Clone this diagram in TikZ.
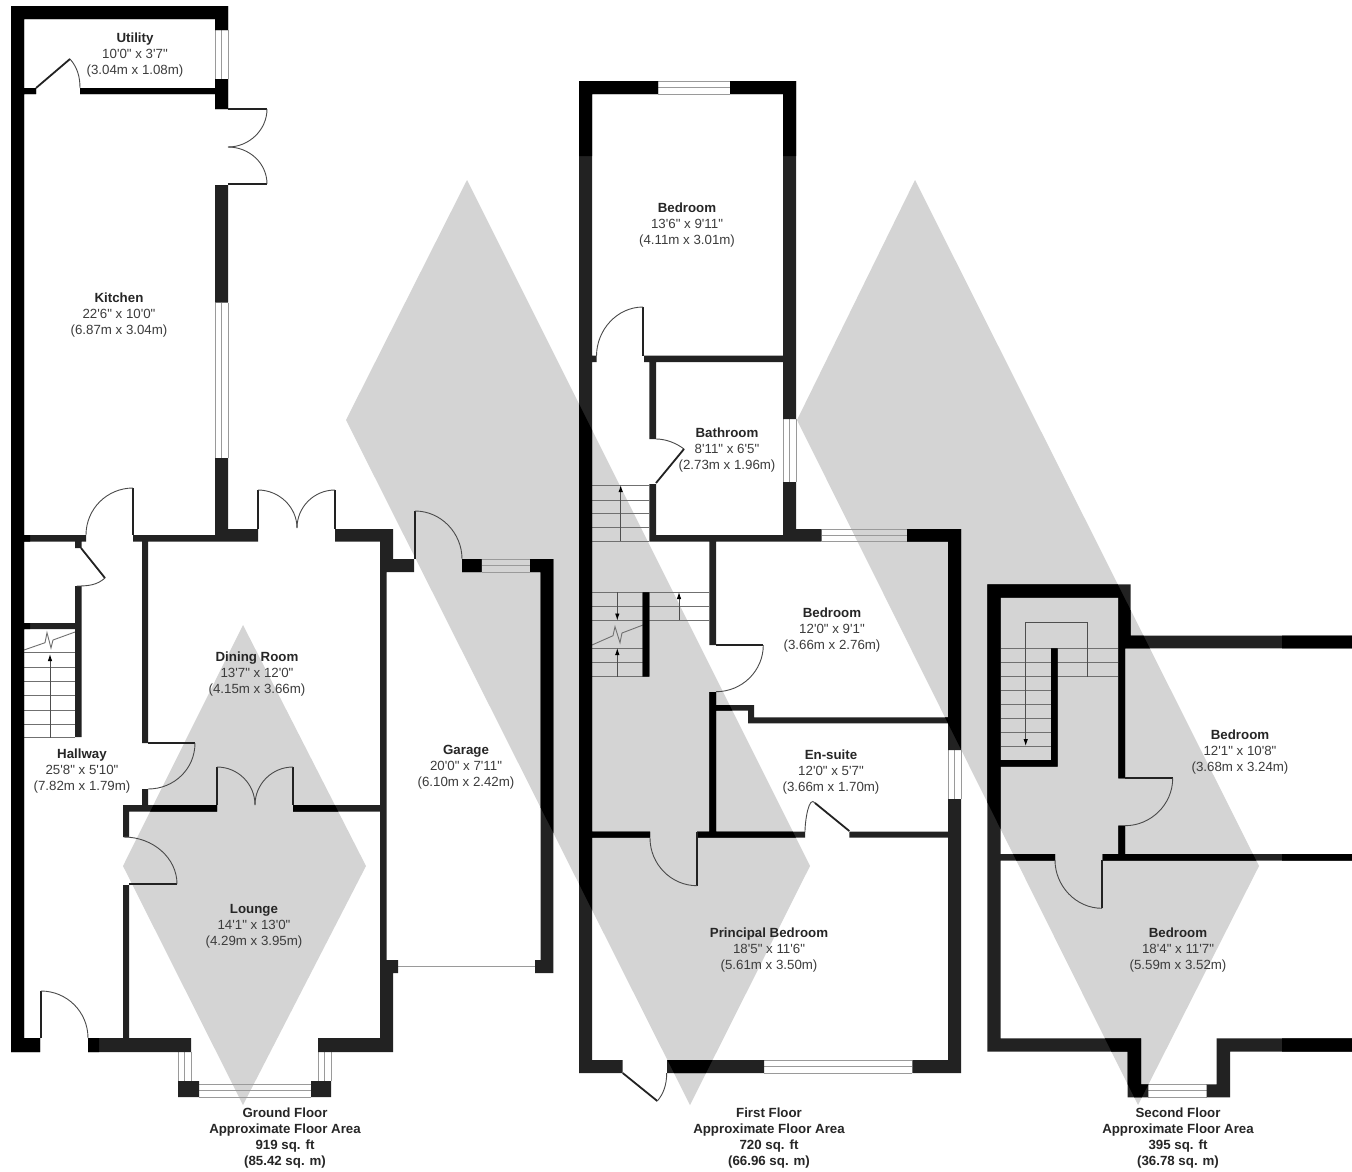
\documentclass[tikz,border=0pt]{standalone}
\usepackage{fontspec}
\usetikzlibrary{arrows.meta}
\newfontfamily\planfont{Liberation Sans}
\definecolor{wallc}{HTML}{222222}
\definecolor{walldark}{HTML}{000000}
\definecolor{markc}{HTML}{D4D4D4}
\definecolor{titlec}{HTML}{262626}
\definecolor{dimc}{HTML}{3C3C3C}
\definecolor{winc}{HTML}{9A9A9A}
\definecolor{treadc}{HTML}{707070}
\definecolor{swingc}{HTML}{4A4A4A}
\tikzset{
  watermark/.style={fill=markc},
  roomlabel/.style={font=\planfont\fontsize{13.3}{16}\selectfont, align=center, text=dimc, inner sep=0pt},
  floorlabel/.style={font=\planfont\bfseries\fontsize{13.3}{16}\selectfont, align=center, text=titlec, inner sep=0pt},
  jamb/.style={draw=wallc, line width=1.8pt},
  leaf/.style={draw=wallc, line width=1.8pt},
  swing/.style={draw=swingc, line width=0.9pt},
  winline/.style={draw=winc, line width=1pt},
  tread/.style={draw=treadc, line width=0.8pt},
  stairarrow/.style={draw=treadc!70!black, line width=0.9pt, -{Latex[length=7pt,width=4.5pt,color=black]}},
  breakline/.style={draw=treadc, line width=0.9pt, line join=miter}
}
\newcommand{\hwin}[4]{\draw[winline] (#1,#3) -- (#2,#3) (#1,{(#3+#4)/2}) -- (#2,{(#3+#4)/2}) (#1,#4) -- (#2,#4);}
\newcommand{\vwin}[4]{\draw[winline] (#1,#3) -- (#1,#4) ({(#1+#2)/2},#3) -- ({(#1+#2)/2},#4) (#2,#3) -- (#2,#4);}
\newcommand{\ttl}[1]{\textcolor{titlec}{\bfseries #1}}
\newcommand{\planwalls}[1]{\fill[fill=#1]
  (11,6) rectangle (24,1052)
  (11,1038) rectangle (40,1052)
  (11,6) rectangle (228,19)
  (215,6) rectangle (228,30)
  (215,79) rectangle (228,109)
  (80,88) rectangle (215,94)
  (24,88) rectangle (36,94)
  (215,185) rectangle (228,302.7)
  (215,458) rectangle (228,541.7)
  (24,535) rectangle (86,541.7)
  (133,535) rectangle (215,541.7)
  (215,529) rectangle (258,541.7)
  (335,529) rectangle (393,541.7)
  (380,529) rectangle (393,572)
  (386,559) rectangle (414,572)
  (380,559) rectangle (386.7,960)
  (380,960) rectangle (398,973)
  (380,960) rectangle (393,1052)
  (75,541) rectangle (81.5,548)
  (75,586) rectangle (81.5,737)
  (24,623) rectangle (75,629)
  (142,541) rectangle (148,743)
  (142,789) rectangle (148,807)
  (123,805) rectangle (217,811.7)
  (293,805) rectangle (380,811.7)
  (123,805) rectangle (129,837)
  (123,885) rectangle (129,1040)
  (88,1038) rectangle (191,1052)
  (178,1038) rectangle (191,1052)
  (178,1081) rectangle (199,1097)
  (311,1081) rectangle (331,1097)
  (318,1038) rectangle (393,1052)
  (462,559) rectangle (481.7,572)
  (530,559) rectangle (553.3,572)
  (540.5,559) rectangle (553.3,973)
  (535,960) rectangle (553.3,973)
  (579,81) rectangle (592,1073)
  (579,81) rectangle (658,94)
  (730,81) rectangle (796,94)
  (783,81) rectangle (796,419)
  (783,482) rectangle (796,541.7)
  (644,355.7) rectangle (783,362)
  (592,355.7) rectangle (596.5,362)
  (649.3,362) rectangle (656,439)
  (649.3,484) rectangle (656,541.7)
  (649.3,535) rectangle (783,541.7)
  (796,529) rectangle (821.7,541.7)
  (907,529) rectangle (961,541.7)
  (948,529) rectangle (961,750)
  (948,799) rectangle (961,1073)
  (709.3,541) rectangle (716,645)
  (709.3,692) rectangle (716,832)
  (716,705) rectangle (754,710.7)
  (748,705) rectangle (754,723.3)
  (748,717.3) rectangle (948,723.3)
  (642.7,592.3) rectangle (649.3,676.7)
  (592,831.7) rectangle (650,837.7)
  (697,831.7) rectangle (805,837.7)
  (849.3,831.7) rectangle (948,837.7)
  (579,1060) rectangle (622.7,1073)
  (667,1060) rectangle (764,1073)
  (912.3,1060) rectangle (961,1073)
  (987.3,584.3) rectangle (1000.7,1051.7)
  (987.3,584.3) rectangle (1130.7,597.7)
  (1118.3,584.3) rectangle (1130.7,648.3)
  (1118.3,648) rectangle (1125,778.3)
  (1118.3,825.7) rectangle (1125,855)
  (1118.3,635.7) rectangle (1352,648.3)
  (1000.7,854) rectangle (1055,860.7)
  (1102.7,854) rectangle (1352,860.7)
  (1051,648.3) rectangle (1057.7,766.7)
  (1000.7,760) rectangle (1057.7,766.7)
  (987.3,1038.3) rectangle (1141,1051.7)
  (1216.7,1038.3) rectangle (1352,1051.7)
  (1127.7,1038.3) rectangle (1141,1097.3)
  (1127.7,1084.3) rectangle (1148.3,1097.3)
  (1206.7,1084.3) rectangle (1230,1097.3)
  (1216.7,1038.3) rectangle (1230,1097.3);}
\begin{document}
\begin{tikzpicture}[x=1pt,y=-1pt]
\useasboundingbox (0,0) rectangle (1352,1171);
\fill[white] (0,0) rectangle (1352,1171);

% watermark
\fill[watermark] (467,180) -- (810,866) -- (690,1105) -- (346,420) -- cycle;
\fill[watermark] (915,180) -- (1259,866) -- (1138,1105) -- (797,420) -- cycle;
\fill[watermark] (243,625) -- (366,866) -- (243,1105) -- (123,866) -- cycle;

% stairs, ground floor
\draw[tread] (24,652.7) -- (75,652.7) (24,667) -- (75,667) (24,681.7) -- (75,681.7) (24,695.7) -- (75,695.7) (24,710) -- (75,710) (24,724) -- (75,724) (24,737.7) -- (75,737.7);
\draw[stairarrow] (50,737.7) -- (50,654);
\draw[breakline] (24,650) -- (45,642.7) -- (47,632.7) -- (51,648) -- (53,640) -- (75,632);

% stairs, first floor
\draw[tread] (592,485.7) -- (649,485.7) (592,500) -- (649,500) (592,513.3) -- (649,513.3) (592,527.7) -- (649,527.7) (592,541.7) -- (649,541.7);
\draw[stairarrow] (620.7,541) -- (620.7,485);
\draw[tread] (592,592.3) -- (709,592.3) (592,606) -- (709,606) (592,620) -- (709,620);
\draw[tread] (592,648.3) -- (643,648.3) (592,662.3) -- (643,662.3) (592,676.7) -- (643,676.7);
\draw[stairarrow] (617.3,592.3) -- (617.3,620.5);
\draw[stairarrow] (617.3,676.7) -- (617.3,648);
\draw[stairarrow] (679,620) -- (679,592);
\draw[breakline] (592,645) -- (613,635.7) -- (615,626.7) -- (620,642.7) -- (622,633) -- (643,625);

% stairs, second floor
\draw[tread] (1001,648.3) -- (1118,648.3) (1001,662.3) -- (1118,662.3) (1001,676.7) -- (1118,676.7);
\draw[tread] (1001,690.7) -- (1051,690.7) (1001,704.3) -- (1051,704.3) (1001,718.3) -- (1051,718.3) (1001,732.3) -- (1051,732.3) (1001,746) -- (1051,746);
\draw[stairarrow] (1087.7,676.7) -- (1087.7,622.3) -- (1025.7,622.3) -- (1025.7,746);

% windows
\vwin{215}{228}{30}{79}
\vwin{215}{228}{303}{458}
\vwin{178}{191}{1052}{1081}
\vwin{318}{331}{1052}{1081}
\hwin{199}{311}{1084}{1097}
\hwin{481.7}{530}{559}{572}
\hwin{658}{730}{81}{94}
\vwin{783}{796}{419}{482}
\hwin{821.7}{907}{529}{541.7}
\vwin{948}{961}{750}{799}
\hwin{764}{912}{1060}{1073}
\hwin{1148}{1207}{1084}{1097}
\draw[winline] (398,966) -- (535,966);

% walls
\planwalls{wallc}
\begin{scope}
\clip (467,180) -- (810,866) -- (690,1105) -- (346,420) -- cycle
      (915,180) -- (1259,866) -- (1138,1105) -- (797,420) -- cycle
      (243,625) -- (366,866) -- (243,1105) -- (123,866) -- cycle
      (0,0) -- (30,0) -- (30,1060) -- (0,1060) -- cycle
      (30,0) -- (230,0) -- (230,185) -- (30,185) -- cycle
      (30,1030) -- (40,1030) -- (40,1060) -- (30,1060) -- cycle
      (88,1030) -- (99,1030) -- (99,1060) -- (88,1060) -- cycle
      (570,70) -- (800,70) -- (800,156) -- (570,156) -- cycle
      (1282,620) -- (1352,620) -- (1352,1060) -- (1282,1060) -- cycle;
\planwalls{walldark}
\end{scope}

% doors, ground floor
\draw[leaf] (36,88) -- (70,59);
\draw[swing] (70,59) .. controls +(7,8) and +(0,-12) .. (80,88);
\draw[jamb] (228,109) -- (267,109) (228,184) -- (267,184);
\draw[swing] (267,109) .. controls +(0,21) and +(21,0) .. (228,147);
\draw[swing] (267,184) .. controls +(0,-21) and +(21,0) .. (228,147);
\draw[jamb] (133,488) -- (133,535);
\draw[swing] (133,488) .. controls +(-26,0) and +(0,-26) .. (86,535);
\draw[jamb] (258,490) -- (258,529) (335,490) -- (335,529);
\draw[swing] (258,490) .. controls +(21,0) and +(0,-21) .. (297,528);
\draw[swing] (335,490) .. controls +(-21,0) and +(0,-21) .. (297,528);
\draw[leaf] (81,548) -- (105,578);
\draw[swing] (105,578) .. controls +(-8,7) and +(12,0) .. (77,586);
\draw[jamb] (148,743) -- (195,743);
\draw[swing] (195,743) .. controls +(0,26) and +(26,0) .. (148,789);
\draw[jamb] (217,767) -- (217,805) (293,767) -- (293,805);
\draw[swing] (217,767) .. controls +(21,0) and +(0,-21) .. (255,805);
\draw[swing] (293,767) .. controls +(-21,0) and +(0,-21) .. (255,805);
\draw[jamb] (129,884) -- (177,884);
\draw[swing] (124,837) .. controls +(29,0) and +(0,-26) .. (177,884);
\draw[jamb] (41,991) -- (41,1038);
\draw[swing] (41,991) .. controls +(26,0) and +(0,-26) .. (88,1038);
\draw[jamb] (415,511) -- (415,559);
\draw[swing] (415,511) .. controls +(26,0) and +(0,-26) .. (462,559);

% doors, first floor
\draw[jamb] (643,307) -- (643,356);
\draw[swing] (643,307) .. controls +(-26,0) and +(0,-26) .. (596.5,356);
\draw[swing] (656,439) .. controls +(10,0) and +(-8,-6) .. (684,449);
\draw[leaf] (684,449) -- (656,483);
\draw[jamb] (716,645) -- (763.3,645);
\draw[swing] (763.3,645) .. controls +(0,26) and +(26,0) .. (716,691.7);
\draw[swing] (805,832) .. controls +(0,-12) and +(-6,-8) .. (815,803);
\draw[leaf] (815,803) -- (849.3,831);
\draw[jamb] (697,832) -- (697,885.7);
\draw[swing] (650,838) .. controls +(0,26) and +(-26,0) .. (697,885.7);
\draw[leaf] (622.7,1073) -- (657.3,1101);
\draw[swing] (657.3,1101) .. controls +(6,-7) and +(0,12) .. (666.7,1073);

% doors, second floor
\draw[jamb] (1125,778.3) -- (1172.7,778.3);
\draw[swing] (1172.7,778.3) .. controls +(0,26) and +(26,0) .. (1125,825.7);
\draw[jamb] (1102,860) -- (1102,908.3);
\draw[swing] (1055,860) .. controls +(0,26) and +(-26,0) .. (1102,908.3);

% room labels
\node[roomlabel] (utility) at (135,55) {\ttl{Utility}\\10'0" x 3'7"\\(3.04m x 1.08m)};
\node[roomlabel] (kitchen) at (119,315) {\ttl{Kitchen}\\22'6" x 10'0"\\(6.87m x 3.04m)};
\node[roomlabel] (dining) at (257,674) {\ttl{Dining Room}\\13'7" x 12'0"\\(4.15m x 3.66m)};
\node[roomlabel] (hallway) at (82,771) {\ttl{Hallway}\\25'8" x 5'10"\\(7.82m x 1.79m)};
\node[roomlabel] (lounge) at (254,926) {\ttl{Lounge}\\14'1" x 13'0"\\(4.29m x 3.95m)};
\node[roomlabel] (garage) at (466,767) {\ttl{Garage}\\20'0" x 7'11"\\(6.10m x 2.42m)};
\node[roomlabel] (bedrooma) at (687,225) {\ttl{Bedroom}\\13'6" x 9'11"\\(4.11m x 3.01m)};
\node[roomlabel] (bathroom) at (727,450) {\ttl{Bathroom}\\8'11" x 6'5"\\(2.73m x 1.96m)};
\node[roomlabel] (bedroomb) at (832,630) {\ttl{Bedroom}\\12'0" x 9'1"\\(3.66m x 2.76m)};
\node[roomlabel] (ensuite) at (831,772) {\ttl{En-suite}\\12'0" x 5'7"\\(3.66m x 1.70m)};
\node[roomlabel] (principal) at (769,950) {\ttl{Principal Bedroom}\\18'5" x 11'6"\\(5.61m x 3.50m)};
\node[roomlabel] (bedroomc) at (1240,752) {\ttl{Bedroom}\\12'1" x 10'8"\\(3.68m x 3.24m)};
\node[roomlabel] (bedroomd) at (1178,950) {\ttl{Bedroom}\\18'4" x 11'7"\\(5.59m x 3.52m)};

% floor labels
\node[floorlabel] (groundfloor) at (285,1138) {Ground Floor\\Approximate Floor Area\\919 sq. ft\\(85.42 sq. m)};
\node[floorlabel] (firstfloor) at (769,1138) {First Floor\\Approximate Floor Area\\720 sq. ft\\(66.96 sq. m)};
\node[floorlabel] (secondfloor) at (1178,1138) {Second Floor\\Approximate Floor Area\\395 sq. ft\\(36.78 sq. m)};
\end{tikzpicture}
\end{document}
